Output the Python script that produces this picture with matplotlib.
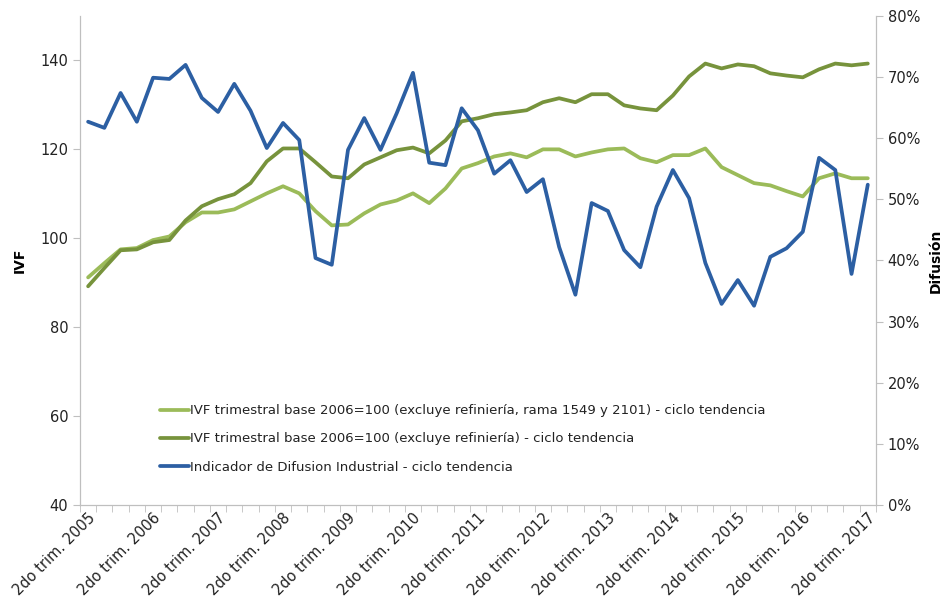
import numpy as np
import matplotlib
matplotlib.use('Agg')
import matplotlib.pyplot as plt
from matplotlib.ticker import FuncFormatter

# quarters: 2do trim. 2005 .. 2do trim. 2017
years = list(range(2005, 2018))
n_q = 49
tick_labels = ['2do trim. %d' % y for y in years]

ivf_sin_ramas = [91.2, 94.4, 97.5, 97.8, 99.6, 100.4, 103.6, 105.8, 105.8, 106.5,
                 108.3, 110.1, 111.7, 110.1, 106.1, 102.9, 103.1, 105.6, 107.6, 108.5,
                 110.1, 107.9, 111.2, 115.7, 116.9, 118.4, 119.1, 118.2, 120.0, 120.0,
                 118.4, 119.3, 120.0, 120.2, 118.0, 117.1, 118.7, 118.7, 120.2, 116.0,
                 114.2, 112.4, 111.9, 110.6, 109.4, 113.5, 114.6, 113.5, 113.5]

ivf_sin_refineria = [89.2, 93.3, 97.3, 97.5, 99.1, 99.6, 104.0, 107.2, 108.8, 109.9,
                     112.4, 117.3, 120.2, 120.2, 117.1, 113.9, 113.5, 116.6, 118.2, 119.8,
                     120.4, 119.1, 122.0, 126.3, 127.0, 127.9, 128.3, 128.8, 130.6, 131.5,
                     130.6, 132.4, 132.4, 129.9, 129.2, 128.8, 132.1, 136.4, 139.3, 138.2,
                     139.1, 138.7, 137.1, 136.6, 136.2, 138.0, 139.3, 138.9, 139.3]

difusion = [62.7, 61.7, 67.4, 62.7, 69.9, 69.7, 72.0, 66.6, 64.3, 68.9,
            64.5, 58.4, 62.5, 59.7, 40.4, 39.3, 58.1, 63.3, 58.1, 64.1,
            70.7, 56.0, 55.6, 64.9, 61.3, 54.2, 56.4, 51.2, 53.3, 42.2,
            34.4, 49.4, 48.1, 41.7, 38.9, 48.8, 54.8, 50.2, 39.6, 32.9,
            36.8, 32.6, 40.6, 42.0, 44.7, 56.8, 54.8, 37.8, 52.4]

labels = ['IVF trimestral base 2006=100 (excluye refiniería, rama 1549 y 2101) - ciclo tendencia',
          'IVF trimestral base 2006=100 (excluye refiniería) - ciclo tendencia',
          'Indicador de Difusion Industrial - ciclo tendencia']

c_light = '#9bbb59'
c_dark = '#77933c'
c_blue = '#2c5fa3'
grey = '#bfbfbf'

x = np.arange(n_q)

fig = plt.figure(figsize=(9.5, 6.03), dpi=100)
ax = fig.add_axes([0.0842, 0.1625, 0.8378, 0.811])
ax2 = ax.twinx()

l1, = ax.plot(x, ivf_sin_ramas, color=c_light, lw=2.7, solid_joinstyle='round', solid_capstyle='round')
l2, = ax.plot(x, ivf_sin_refineria, color=c_dark, lw=2.7, solid_joinstyle='round', solid_capstyle='round')
l3, = ax2.plot(x, np.array(difusion) / 100, color=c_blue, lw=2.7, solid_joinstyle='round', solid_capstyle='round')

ax.set_xlim(-0.5, n_q - 0.5)
ax.set_ylim(40, 150)
ax.set_yticks(range(40, 141, 20))
ax2.set_ylim(0, 0.8)
ax2.set_yticks(np.arange(0, 0.81, 0.1))
ax2.yaxis.set_major_formatter(FuncFormatter(lambda v, p: '%d%%' % round(v * 100)))

ax.set_xticks(np.arange(0, n_q, 4))
ax.set_xticklabels(tick_labels, rotation=45, ha='right', rotation_mode='anchor', fontsize=10.5, color='#222222')
ax.set_xticks(np.arange(-0.5, n_q, 1), minor=True)
ax.tick_params(axis='x', which='major', length=0, pad=4)
ax.tick_params(axis='x', which='minor', length=5, color=grey, direction='out')

for a in (ax, ax2):
    for s in a.spines.values():
        s.set_color(grey)
    a.spines['top'].set_visible(False)

ax.tick_params(axis='y', length=5, color=grey, labelsize=10.5, labelcolor='#222222')
ax2.tick_params(axis='y', length=5, color=grey, labelsize=10.5, labelcolor='#222222')

ax.set_ylabel('IVF', fontweight='bold', fontsize=10, labelpad=10)
ax2.set_ylabel('Difusión', fontweight='bold', fontsize=10, labelpad=6)

ax2.legend([l1, l2, l3], labels, loc='lower left', bbox_to_anchor=(0.085, 0.04),
           frameon=False, fontsize=9.5, handlelength=2.2, handletextpad=0.1,
           labelspacing=1.15, labelcolor='#222222')

fig.savefig('out.png', dpi=100)
